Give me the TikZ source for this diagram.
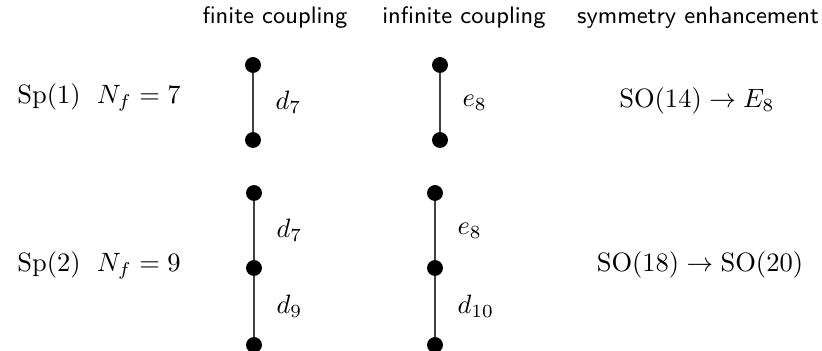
\documentclass[tikz,border=0pt]{standalone}
\usepackage{amsmath}
\usepackage{amssymb}
\usepackage{tikz}
\usetikzlibrary{positioning, calc}

\begin{document}
\begin{tikzpicture}[
    x=0.377pt, y=-0.377pt,
    dot/.style={circle, fill=black, inner sep=0pt, minimum size=6pt},
    head/.style={font=\small\sffamily, anchor=base},
    lab/.style={font=\normalsize, anchor=base},
    edge/.style={draw=black!75, line width=0.4pt},
]
    \useasboundingbox (0,0) rectangle (822,351);

    \node[head] (h1) at (275,24) {finite coupling};
    \node[head] (h2) at (464,24) {infinite coupling};
    \node[head] (h3) at (698,24) {symmetry enhancement};

    % first row
    \node[lab, anchor=base west] (r1) at (8,104) {$\mathrm{Sp}(1)\ \;N_f = 7$};
    \node[dot] (a1) at (253,65) {};
    \node[dot] (a2) at (253,140) {};
    \node[dot] (b1) at (440,65) {};
    \node[dot] (b2) at (440,140) {};
    \draw[edge] (a1) -- node[right=5pt] {$d_7$} (a2);
    \draw[edge] (b1) -- node[right=5pt] {$e_8$} (b2);
    \node[lab] (s1) at (697,108) {$\mathrm{SO}(14) \to E_8$};

    % second row
    \node[lab, anchor=base west] (r2) at (8,272) {$\mathrm{Sp}(2)\ \;N_f = 9$};
    \node[dot] (c1) at (254,193) {};
    \node[dot] (c2) at (254,268) {};
    \node[dot] (c3) at (254,345) {};
    \node[dot] (e1) at (435,193) {};
    \node[dot] (e2) at (435,268) {};
    \node[dot] (e3) at (435,345) {};
    \draw[edge] (c1) -- node[right=5pt] {$d_7$} (c2);
    \draw[edge] (c2) -- node[right=5pt] {$d_9$} (c3);
    \draw[edge] (e1) -- node[right=5pt] {$e_8$} (e2);
    \draw[edge] (e2) -- node[right=5pt] {$d_{10}$} (e3);
    \node[lab] (s2) at (700,272) {$\mathrm{SO}(18) \to \mathrm{SO}(20)$};
\end{tikzpicture}
\end{document}
